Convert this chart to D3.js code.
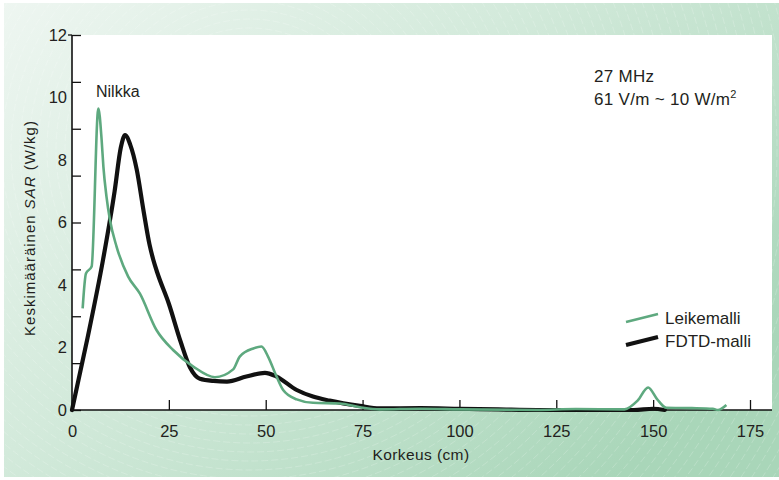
<!DOCTYPE html>
<html>
<head>
<meta charset="utf-8">
<script src="https://cdn.jsdelivr.net/npm/d3@7"></script>
<style>
  html, body { margin: 0; padding: 0; background: #fff; }
  svg { display: block; }
  text { font-family: "Liberation Sans", Arial, Helvetica, sans-serif; fill: #231f20; }
</style>
</head>
<body>
<svg id="chart" width="779" height="480"></svg>
<script>
// Average SAR along body height, 27 MHz exposure
const xTicks = [0, 25, 50, 75, 100, 125, 150, 175];
const yLabels = [0, 2, 4, 6, 8, 10, 12];
const yTickMarks = [0, 1.5, 3, 4.5, 6, 7.5, 9, 10.5, 12];

// Leikemalli (slice model)
const leikeHeight = [2.75, 3.6, 5.07, 6.8, 7.65, 8.1, 8.9, 9.8, 11.5, 14.5, 17.5, 21.8, 26.1, 31.3, 36.9,
  41.6, 43.3, 46.8, 48.9, 50.6, 52.8, 54.5, 58, 62.2, 69.1, 74.3, 79.4, 90, 100, 120, 130,
  142.6, 146, 148.7, 151, 153.4, 160, 165.4, 166.7, 168.9];
const leikeSar = [3.25, 4.37, 4.59, 9.65, 8.64, 7.79, 6.83, 6.08, 5.23, 4.27, 3.73, 2.56, 1.92, 1.39, 1.05,
  1.3, 1.71, 1.97, 2.03, 1.71, 1.07, 0.64, 0.34, 0.23, 0.21, 0.09, 0.02, 0.04, 0.02, 0.0, 0.03,
  0.02, 0.3, 0.72, 0.35, 0.07, 0.06, 0.04, 0.0, 0.16];

// FDTD-malli
const fdtdHeight = [0, 4, 8, 11, 12.6, 13.7, 15, 16.7, 18.5, 20, 21, 22, 25, 28, 30.5, 33,
  36.5, 40, 45, 49.8, 52.8, 58, 62.2, 66.5, 74.3, 79.4, 90, 100, 110, 120, 145, 150, 153];
const fdtdSar = [0, 2.3, 4.8, 7.0, 8.4, 8.8, 8.5, 7.7, 6.35, 5.3, 4.8, 4.4, 3.4, 2.2, 1.35, 1.0,
  0.93, 0.91, 1.07, 1.19, 1.07, 0.64, 0.43, 0.30, 0.13, 0.05, 0.06, 0.04, 0.02, 0.0, 0.0, 0.04, 0.0];

const GREEN = "#5ea97f";
const BLACK = "#111111";

const svg = d3.select("#chart");
const defs = svg.append("defs");

// background panel gradient
const grad = defs.append("linearGradient").attr("id", "bg")
  .attr("x1", 0).attr("y1", 0).attr("x2", 1).attr("y2", 0.7);
grad.append("stop").attr("offset", "0%").attr("stop-color", "#eef6f1");
grad.append("stop").attr("offset", "45%").attr("stop-color", "#d3eadb");
grad.append("stop").attr("offset", "100%").attr("stop-color", "#a9d6b9");

defs.append("clipPath").attr("id", "panelClip")
  .append("rect").attr("x", 4).attr("y", 3).attr("width", 775).attr("height", 474);

svg.append("rect").attr("x", 4).attr("y", 3).attr("width", 775).attr("height", 474)
  .attr("fill", "url(#bg)");

// faint concentric texture
const tex = svg.append("g").attr("clip-path", "url(#panelClip)");
tex.selectAll("circle").data(d3.range(14, 820, 9)).join("circle")
  .attr("cx", 250).attr("cy", 150).attr("r", d => d)
  .attr("fill", "none").attr("stroke", "#ffffff").attr("stroke-opacity", 0.28)
  .attr("stroke-width", 0.7).attr("stroke-dasharray", "7 3");

const x = d3.scaleLinear().domain([0, 175]).range([72, 750]);
const y = d3.scaleLinear().domain([0, 12]).range([410, 35]);

// plot area
svg.append("rect").attr("x", 72).attr("y", 35).attr("width", 772 - 72).attr("height", 410 - 35)
  .attr("fill", "#ffffff");

// x axis
const gx = svg.append("g").attr("transform", "translate(0,410)")
  .call(d3.axisBottom(x).tickValues(xTicks).tickSizeInner(-10).tickSizeOuter(0).tickPadding(15.5));
gx.select(".domain").remove();
gx.selectAll(".tick line").attr("stroke", BLACK).attr("stroke-width", 1.3);
gx.selectAll(".tick text").attr("font-size", 16.5).style("font-family", "'Liberation Sans', Arial, sans-serif").attr("fill", "#231f20");

// y axis tick marks
const gyt = svg.append("g").attr("transform", "translate(72,0)")
  .call(d3.axisLeft(y).tickValues(yTickMarks).tickFormat("").tickSizeInner(-9).tickSizeOuter(0));
gyt.select(".domain").remove();
gyt.selectAll(".tick line").attr("stroke", BLACK).attr("stroke-width", 1.3);

// y axis labels
const gyl = svg.append("g").attr("transform", "translate(72,0)")
  .call(d3.axisLeft(y).tickValues(yLabels).tickSize(0).tickPadding(5));
gyl.select(".domain").remove();
gyl.selectAll(".tick text").attr("font-size", 16.5).style("font-family", "'Liberation Sans', Arial, sans-serif").attr("fill", "#231f20");

// axis lines
svg.append("line").attr("x1", 72).attr("x2", 772).attr("y1", 410).attr("y2", 410)
  .attr("stroke", BLACK).attr("stroke-width", 1.6);
svg.append("line").attr("x1", 72).attr("x2", 72).attr("y1", 35).attr("y2", 410)
  .attr("stroke", BLACK).attr("stroke-width", 1.6);
svg.append("line").attr("x1", 68).attr("x2", 72).attr("y1", 35).attr("y2", 35)
  .attr("stroke", BLACK).attr("stroke-width", 1.3);

// series
const line = d3.line().x(d => x(d[0])).y(d => y(d[1])).curve(d3.curveMonotoneX);
const fdtd = fdtdHeight.map((h, i) => [h, fdtdSar[i]]);
const leike = leikeHeight.map((h, i) => [h, leikeSar[i]]);

svg.append("path").datum(fdtd).attr("d", line)
  .attr("fill", "none").attr("stroke", BLACK).attr("stroke-width", 4.2)
  .attr("stroke-linejoin", "round").attr("stroke-linecap", "round");
svg.append("path").datum(leike).attr("d", line)
  .attr("fill", "none").attr("stroke", GREEN).attr("stroke-width", 2.6)
  .attr("stroke-linejoin", "miter").attr("stroke-linecap", "butt");

// axis titles
svg.append("text").attr("x", 421).attr("y", 460).attr("text-anchor", "middle")
  .attr("font-size", 15.5).attr("letter-spacing", 0.4).text("Korkeus (cm)");

const yt = svg.append("text").attr("transform", "translate(35,228) rotate(-90)")
  .attr("text-anchor", "middle").attr("font-size", 15).attr("letter-spacing", 1);
yt.append("tspan").text("Keskimääräinen ");
yt.append("tspan").attr("font-style", "italic").text("SAR");
yt.append("tspan").text(" (W/kg)");

// annotations
svg.append("text").attr("x", 96).attr("y", 97).attr("font-size", 16).text("Nilkka");
svg.append("text").attr("x", 594).attr("y", 82).attr("font-size", 17).attr("letter-spacing", 0.3).text("27 MHz");
const fld = svg.append("text").attr("x", 594).attr("y", 105).attr("font-size", 17).attr("letter-spacing", 0.3);
fld.append("tspan").text("61 V/m ~ 10 W/m");
fld.append("tspan").attr("font-size", 11).attr("dy", -7).text("2");

// legend
const legend = [
  { name: "Leikemalli", color: GREEN, width: 2.6, y: 318 },
  { name: "FDTD-malli", color: BLACK, width: 4.2, y: 341 }
];
const lg = svg.append("g");
legend.forEach(d => {
  lg.append("line").attr("x1", 626).attr("x2", 658).attr("y1", d.y + 4).attr("y2", d.y - 4)
    .attr("stroke", d.color).attr("stroke-width", d.width);
  lg.append("text").attr("x", 665).attr("y", d.y + 6).attr("font-size", 17).text(d.name);
});
</script>
</body>
</html>
